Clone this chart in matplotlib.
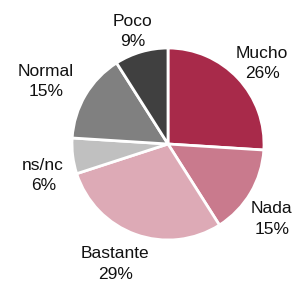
import matplotlib
matplotlib.use("Agg")
import matplotlib.pyplot as plt

labels = ["Mucho", "Nada", "Bastante", "ns/nc", "Normal", "Poco"]
values = [26, 15, 29, 6, 15, 9]
colors = ["#a82a4a", "#c97a8d", "#ddaab6", "#c0c0c0", "#808080", "#404040"]

# where each label sits, in units of the pie radius
label_pos = [(0.98, 0.84), (1.08, -0.78), (-0.55, -1.25),
             (-1.30, -0.33), (-1.27, 0.65), (-0.37, 1.17)]

plt.rcParams["font.family"] = ["Liberation Sans", "DejaVu Sans"]

fig = plt.figure(figsize=(2.94, 2.86), dpi=100)
ax = fig.add_axes([72 / 294, 46 / 286, 192 / 294, 192 / 286])

wedges, _ = ax.pie(values, colors=colors, startangle=90, counterclock=False,
                   wedgeprops=dict(edgecolor="white", linewidth=2))

for l, v, (x, y) in zip(labels, values, label_pos):
    ax.text(x, y, f"{l}\n{v}%", ha="center", va="center", fontsize=12.5,
            color="#111111", linespacing=1.45, clip_on=False)

ax.set_xlim(-1, 1)
ax.set_ylim(-1, 1)
ax.set_aspect("equal")

fig.savefig("out.png", dpi=100)
